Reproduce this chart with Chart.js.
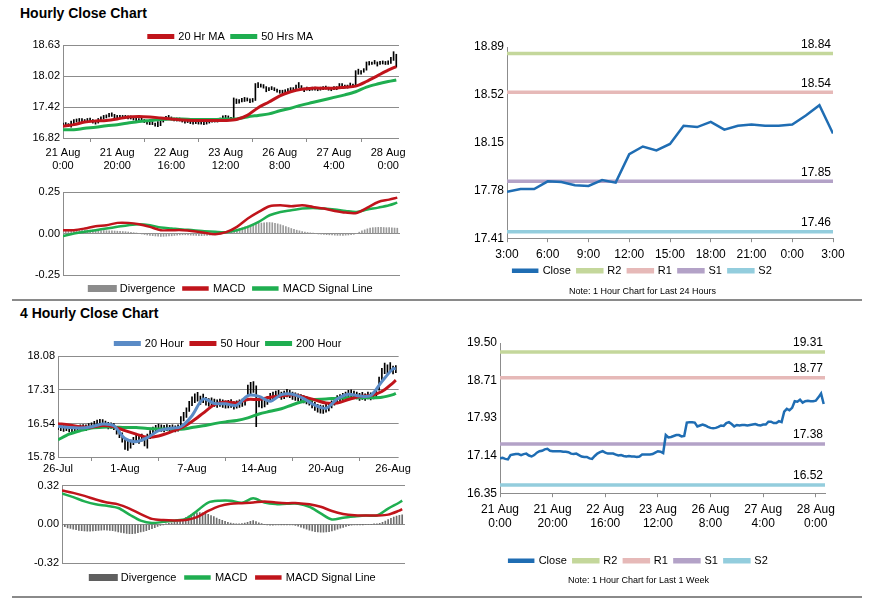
<!DOCTYPE html>
<html>
<head>
<meta charset="utf-8">
<script src="https://cdn.jsdelivr.net/npm/chart.js@4.4.1/dist/chart.umd.min.js"></script>
<style>
  body { margin: 0; background: #fff; font-family: "Liberation Sans", Arial, sans-serif; }
  #page { position: relative; width: 873px; height: 601px; overflow: hidden; }
  .title { position: absolute; left: 20px; font-weight: bold; font-size: 14px; color: #000; }
  .rule { position: absolute; left: 12px; width: 850px; height: 0; border-top: 2px solid #8a8a8a; }
  canvas { position: absolute; }
</style>
</head>
<body>
<div id="page">
  <div class="title" style="top:5px">Hourly Close Chart</div>
  <canvas id="hourPrice" width="404" height="150" style="left:8px;top:26px"></canvas>
  <canvas id="hourMacd" width="404" height="118" style="left:8px;top:180px"></canvas>
  <canvas id="dayLevels" width="412" height="272" style="left:452px;top:28px"></canvas>
  <div class="rule" style="top:299px"></div>
  <div class="title" style="top:305px">4 Hourly Close Chart</div>
  <canvas id="fourPrice" width="404" height="143" style="left:8px;top:333px"></canvas>
  <canvas id="fourMacd" width="405" height="117" style="left:8px;top:476px"></canvas>
  <canvas id="weekLevels" width="412" height="274" style="left:452px;top:322px"></canvas>
  <div class="rule" style="top:596px"></div>
</div>
<script>
// ---- hourly chart (21 Aug 0:00 .. 28 Aug 3:00) ----
const hourTicks = [['21 Aug', '0:00'], ['21 Aug', '20:00'], ['22 Aug', '16:00'], ['23 Aug', '12:00'],
                   ['26 Aug', '8:00'], ['27 Aug', '4:00'], ['28 Aug', '0:00']];
const hourY = [16.82, 17.42, 18.02, 18.63];
const hourLow = [
  17.05,17.06,17.04,17.03,17.06,17.13,17.14,17.14,17.12,17.14,
  17.15,17.11,17.09,17.11,17.15,17.19,17.21,17.23,17.24,17.21,
  17.20,17.20,17.20,17.20,17.19,17.19,17.17,17.15,17.14,17.15,
  17.12,17.09,17.08,17.08,17.05,17.04,17.06,17.13,17.17,17.19,
  17.17,17.15,17.15,17.15,17.13,17.11,17.12,17.10,17.09,17.10,
  17.09,17.09,17.08,17.09,17.11,17.13,17.13,17.13,17.14,17.16,
  17.19,17.19,17.16,17.20,17.49,17.50,17.52,17.53,17.54,17.51,
  17.52,17.55,17.80,17.81,17.79,17.72,17.74,17.76,17.74,17.71,
  17.69,17.68,17.69,17.70,17.73,17.73,17.75,17.80,17.76,17.72,
  17.75,17.74,17.75,17.75,17.74,17.75,17.76,17.77,17.75,17.74,
  17.76,17.76,17.80,17.81,17.79,17.79,17.82,17.81,17.84,18.06,
  18.06,18.10,18.14,18.24,18.25,18.26,18.22,18.25,18.26,18.25,
  18.25,18.27,18.33,18.20];
const hourHigh = [
  17.11,17.12,17.10,17.15,17.18,17.19,17.20,17.20,17.18,17.20,
  17.21,17.18,17.16,17.20,17.23,17.26,17.27,17.30,17.31,17.28,
  17.26,17.26,17.26,17.26,17.25,17.25,17.24,17.22,17.20,17.21,
  17.18,17.16,17.14,17.14,17.11,17.14,17.19,17.22,17.24,17.26,
  17.23,17.21,17.21,17.21,17.19,17.17,17.18,17.16,17.15,17.16,
  17.15,17.15,17.14,17.17,17.19,17.19,17.19,17.19,17.21,17.25,
  17.26,17.25,17.22,17.60,17.58,17.57,17.59,17.61,17.60,17.58,
  17.59,17.88,17.90,17.87,17.86,17.82,17.80,17.82,17.80,17.77,
  17.75,17.75,17.76,17.78,17.80,17.80,17.85,17.90,17.84,17.79,
  17.81,17.80,17.81,17.81,17.80,17.81,17.82,17.83,17.81,17.80,
  17.82,17.82,17.88,17.88,17.85,17.85,17.89,17.87,18.13,18.16,
  18.13,18.17,18.30,18.31,18.30,18.33,18.30,18.31,18.32,18.31,
  18.32,18.39,18.50,18.45];
// moving averages, read every 4 hours (last value = final bar)
const ma20Hr = [17.05,17.08,17.13,17.15,17.16,17.19,17.23,17.24,17.23,17.21,17.19,17.17,17.16,17.16,17.16,17.16,
                17.18,17.26,17.41,17.52,17.64,17.72,17.77,17.79,17.79,17.79,17.81,17.83,17.92,18.03,18.14,18.21];
const ma50Hr = [16.98,16.98,17.01,17.03,17.06,17.08,17.11,17.14,17.16,17.18,17.19,17.19,17.18,17.18,17.18,17.19,
                17.19,17.23,17.26,17.29,17.35,17.40,17.46,17.51,17.56,17.61,17.66,17.72,17.81,17.87,17.92,17.95];

const hourMacdY = [-0.25, 0, 0.25];
const hourMacd = [0.02,0.02,0.03,0.044,0.05,0.064,0.064,0.056,0.04,0.02,0.02,0.02,0.014,0.004,-0.004,0.008,
                  0.04,0.09,0.13,0.164,0.17,0.164,0.17,0.16,0.15,0.136,0.126,0.124,0.156,0.19,0.204,0.216];
const hourSignal = [-0.016,0.0,0.01,0.02,0.03,0.04,0.05,0.056,0.05,0.036,0.03,0.024,0.02,0.014,0.01,0.008,
                    0.02,0.04,0.07,0.11,0.13,0.14,0.15,0.154,0.15,0.144,0.136,0.13,0.144,0.156,0.17,0.186];
const hourDiverg = [
  0.015,0.015,0.016,0.017,0.018,0.018,0.019,0.02,0.02,0.02,
  0.02,0.02,0.02,0.019,0.018,0.018,0.017,0.016,0.016,0.015,
  0.014,0.013,0.012,0.011,0.009,0.007,0.005,0.003,0.0,-0.003,
  -0.006,-0.009,-0.011,-0.013,-0.015,-0.016,-0.017,-0.017,-0.016,-0.015,
  -0.014,-0.012,-0.01,-0.009,-0.008,-0.008,-0.009,-0.01,-0.011,-0.012,
  -0.013,-0.013,-0.012,-0.011,-0.01,-0.008,-0.006,-0.004,-0.002,0.0,
  0.002,0.006,0.012,0.018,0.024,0.03,0.035,0.04,0.045,0.05,
  0.054,0.058,0.061,0.063,0.065,0.066,0.066,0.065,0.062,0.058,
  0.053,0.048,0.042,0.036,0.03,0.025,0.02,0.016,0.012,0.009,
  0.006,0.004,0.002,0.0,-0.002,-0.004,-0.006,-0.007,-0.008,-0.009,
  -0.01,-0.011,-0.011,-0.011,-0.01,-0.009,-0.007,-0.005,0.0,0.008,
  0.016,0.022,0.028,0.032,0.035,0.036,0.037,0.037,0.036,0.035,
  0.035,0.034,0.033,0.032];

// ---- last 24 hours ----
const dayTicks = ['3:00', '6:00', '9:00', '12:00', '15:00', '18:00', '21:00', '0:00', '3:00'];
const dayY = [17.41, 17.78, 18.15, 18.52, 18.89];
const dayClose = [17.77,17.79,17.79,17.85,17.845,17.82,17.815,17.86,17.84,18.06,18.12,18.09,18.14,
                  18.28,18.27,18.31,18.25,18.28,18.29,18.28,18.28,18.29,18.36,18.44,18.22];
const dayLevels = {R2: 18.84, R1: 18.54, S1: 17.85, S2: 17.46};

// ---- last week, hourly close ----
const weekY = [16.35, 17.14, 17.93, 18.71, 19.50];
const weekClose = [
  17.08,17.09,17.07,17.06,17.15,17.16,17.17,17.17,17.15,17.17,
  17.18,17.14,17.12,17.15,17.20,17.23,17.24,17.27,17.28,17.24,
  17.23,17.23,17.23,17.23,17.22,17.22,17.21,17.18,17.17,17.18,
  17.15,17.12,17.11,17.11,17.08,17.07,17.13,17.18,17.21,17.23,
  17.20,17.18,17.18,17.18,17.16,17.14,17.15,17.13,17.12,17.13,
  17.12,17.12,17.11,17.12,17.16,17.16,17.16,17.16,17.17,17.20,
  17.23,17.22,17.19,17.57,17.52,17.53,17.55,17.57,17.57,17.54,
  17.55,17.83,17.84,17.84,17.83,17.75,17.77,17.79,17.77,17.74,
  17.72,17.71,17.72,17.74,17.77,17.76,17.82,17.84,17.80,17.75,
  17.78,17.77,17.78,17.78,17.77,17.78,17.79,17.80,17.78,17.77,
  17.79,17.79,17.85,17.85,17.82,17.82,17.86,17.84,18.06,18.12,
  18.09,18.14,18.28,18.27,18.31,18.25,18.28,18.29,18.28,18.28,
  18.29,18.36,18.44,18.22];
const weekLevels = {R2: 19.31, R1: 18.77, S1: 17.38, S2: 16.52};

// ---- 4 hourly chart (26 Jul .. 26 Aug) ----
const fourTicks = ['26-Jul', '1-Aug', '7-Aug', '14-Aug', '20-Aug', '26-Aug'];
const fourY = [15.78, 16.54, 17.31, 18.08];
const fourLow = [
  16.40,16.38,16.36,16.38,16.35,16.34,16.37,16.36,16.38,16.39,
  16.38,16.41,16.43,16.45,16.47,16.49,16.48,16.45,16.42,16.43,
  16.40,16.30,16.22,16.12,15.95,15.93,15.98,16.06,16.12,16.09,
  16.14,16.03,15.98,16.20,16.30,16.34,16.37,16.36,16.35,16.38,
  16.36,16.37,16.35,16.37,16.45,16.60,16.68,16.82,16.95,17.02,
  17.05,16.98,17.02,16.96,16.94,16.96,16.93,16.91,16.93,16.91,
  16.89,16.90,16.91,16.87,16.89,16.91,16.93,16.96,17.15,17.22,
  17.25,16.47,16.92,16.90,16.92,16.98,17.06,17.09,17.11,17.13,
  17.09,17.11,17.15,17.13,17.09,17.07,17.05,17.03,17.01,16.99,
  16.96,16.90,16.84,16.80,16.78,16.77,16.80,16.83,16.90,16.96,
  17.02,17.04,17.07,17.10,17.14,17.15,17.12,17.10,17.07,17.09,
  17.07,17.10,17.08,17.10,17.14,17.30,17.50,17.68,17.68,17.72,
  17.67,17.70];
const fourHigh = [
  16.53,16.52,16.50,16.51,16.49,16.48,16.50,16.49,16.51,16.52,
  16.51,16.54,16.56,16.59,16.62,16.64,16.63,16.60,16.57,16.56,
  16.54,16.47,16.40,16.33,16.20,16.14,16.17,16.23,16.28,16.26,
  16.30,16.24,16.30,16.38,16.46,16.50,16.53,16.51,16.50,16.52,
  16.50,16.51,16.49,16.51,16.70,16.80,16.90,17.05,17.15,17.22,
  17.25,17.17,17.21,17.14,17.11,17.13,17.10,17.08,17.10,17.08,
  17.06,17.07,17.09,17.04,17.06,17.08,17.10,17.14,17.42,17.48,
  17.50,17.40,17.10,17.08,17.10,17.16,17.23,17.26,17.28,17.30,
  17.26,17.28,17.32,17.30,17.26,17.24,17.22,17.20,17.18,17.16,
  17.13,17.08,17.03,16.98,16.96,16.95,16.98,17.01,17.06,17.13,
  17.18,17.20,17.23,17.26,17.30,17.31,17.28,17.26,17.23,17.25,
  17.22,17.26,17.24,17.26,17.30,17.60,17.80,17.92,17.88,17.93,
  17.85,17.86];
// moving averages, read every 4 bars (last value = final bar)
const ma20Four = [16.48,16.45,16.44,16.47,16.53,16.49,16.20,16.13,16.22,16.38,16.43,16.47,16.72,17.10,17.00,16.99,
                  16.96,17.18,17.16,17.05,17.20,17.21,17.11,16.96,16.89,17.10,17.21,17.17,17.18,17.50,17.79,17.79];
const ma50Four = [16.54,16.51,16.47,16.46,16.50,16.47,16.38,16.30,16.23,16.26,16.34,16.44,16.59,16.78,16.97,17.03,
                  17.01,17.09,17.09,17.14,17.17,17.20,17.15,17.08,17.01,17.01,17.09,17.16,17.18,17.27,17.47,17.53];
const ma200Four = [16.17,16.30,16.38,16.44,16.46,16.46,16.45,16.45,16.43,16.42,16.42,16.41,16.45,16.49,16.54,16.58,
                   16.61,16.67,16.76,16.82,16.88,16.97,17.05,17.09,17.10,17.12,17.13,17.13,17.13,17.14,17.20,17.23];

const fourMacdY = [-0.32, 0, 0.32];
const fourMacd = [0.255,0.225,0.19,0.165,0.153,0.135,0.08,0.03,0.01,0.02,0.03,0.045,0.11,0.18,0.195,0.195,
                  0.178,0.215,0.18,0.167,0.17,0.17,0.145,0.09,0.04,0.055,0.065,0.073,0.073,0.13,0.18,0.196];
const fourSignal = [0.28,0.26,0.235,0.205,0.18,0.165,0.13,0.085,0.045,0.035,0.032,0.035,0.06,0.11,0.15,0.17,
                    0.175,0.18,0.188,0.18,0.175,0.175,0.165,0.145,0.11,0.086,0.075,0.073,0.073,0.08,0.113,0.125];
const fourDiverg = [
  -0.01,-0.02,-0.03,-0.035,-0.04,-0.045,-0.05,-0.052,-0.055,-0.056,
  -0.056,-0.055,-0.053,-0.05,-0.048,-0.047,-0.048,-0.05,-0.053,-0.057,
  -0.062,-0.067,-0.072,-0.076,-0.078,-0.078,-0.075,-0.07,-0.064,-0.058,
  -0.052,-0.045,-0.037,-0.028,-0.018,-0.009,-0.002,0.004,0.008,0.012,
  0.016,0.02,0.03,0.042,0.055,0.068,0.08,0.088,0.094,0.096,
  0.095,0.09,0.082,0.073,0.063,0.052,0.042,0.033,0.024,0.016,
  0.01,0.006,0.004,0.004,0.006,0.01,0.016,0.024,0.03,0.022,
  0.012,0.005,0.0,-0.005,-0.008,-0.008,-0.006,-0.004,-0.003,-0.003,
  -0.003,-0.004,-0.006,-0.01,-0.016,-0.024,-0.032,-0.04,-0.048,-0.055,
  -0.06,-0.064,-0.066,-0.066,-0.064,-0.06,-0.055,-0.048,-0.04,-0.032,
  -0.025,-0.018,-0.012,-0.008,-0.005,-0.003,-0.002,-0.001,0.0,0.0,
  0.0,0.001,0.002,0.008,0.016,0.026,0.038,0.05,0.06,0.068,
  0.074,0.078];

const RED = '#c0141b', GREEN = '#1fae50', BLUE = '#5a8bc6', CLOSE = '#1f6db3', GRID = '#8c8c8c';
const LEVEL_COLORS = {R2: '#c4d79b', R1: '#e6b9b8', S1: '#b3a2c7', S2: '#93cddd'};

Chart.defaults.font.family = '"Liberation Sans", Arial, sans-serif';
Chart.defaults.color = '#000';
Chart.defaults.animation = false;

// helpers to turn the arrays into {x, y} points on an index axis
const byIndex = vals => vals.map((v, i) => ({x: i, y: v}));
const every = (vals, step, last) => vals.map((v, i) => ({x: Math.min(i * step, last), y: v}));
const spans = (lo, hi) => lo.map((v, i) => ({x: i, y: [v, hi[i]]}));

function yAxis(ticks, width, grid, size) {
  return {
    min: ticks[0], max: ticks[ticks.length - 1],
    afterBuildTicks: s => { s.ticks = ticks.map(v => ({value: v})); },
    afterFit: s => { s.width = width; },
    ticks: {callback: v => v.toFixed(2), font: {size: size}, padding: 3},
    grid: {display: grid, color: GRID, drawTicks: false},
    border: {display: true, color: GRID}
  };
}

function xAxis(labels, step, max, height, size, pad, bottomLine) {
  return {
    type: 'linear', min: 0, max: max, offset: false,
    afterBuildTicks: s => { s.ticks = labels.map((_, i) => ({value: i * step})); },
    afterFit: s => { s.height = height; },
    ticks: {callback: (v, i) => labels[i], autoSkip: false, maxRotation: 0, font: {size: size}, padding: pad},
    grid: {drawOnChartArea: false, color: GRID, tickLength: 4},
    border: {display: bottomLine, color: GRID}
  };
}

function hiddenX(max) {
  return {type: 'linear', min: 0, max: max, offset: false, display: false};
}

function line(label, data, color, width, order) {
  return {type: 'line', label: label, data: data, borderColor: color, backgroundColor: color,
          borderWidth: width, pointRadius: 0, tension: 0.3, order: order};
}

// default legend items, with the divergence swatch drawn as a thicker block
function legendItems(chart) {
  return Chart.defaults.plugins.legend.labels.generateLabels(chart)
    .map(item => item.text === 'Divergence' ? Object.assign(item, {lineWidth: 5}) : item);
}

function legend(position, fullSize, pad, maxHeight) {
  return {
    position: position, fullSize: fullSize, maxHeight: maxHeight,
    labels: {boxWidth: 24, boxHeight: 2, font: {size: 11}, padding: pad,
             generateLabels: legendItems,
             filter: item => item.text !== 'Price',
             sort: (a, b) => a.datasetIndex - b.datasetIndex}
  };
}

// prints each level's value above its line at the right end
const levelTags = {
  id: 'levelTags',
  afterDatasetsDraw(chart, args, opts) {
    const {ctx, chartArea, scales} = chart;
    ctx.save();
    ctx.font = '12px "Liberation Sans", Arial, sans-serif';
    ctx.fillStyle = '#000';
    ctx.textAlign = 'right';
    ctx.textBaseline = 'bottom';
    opts.values.forEach(v => ctx.fillText(v.toFixed(2), chartArea.right - 2, scales.y.getPixelForValue(v) - 3));
    ctx.restore();
  }
};

// --- Hourly close (bars + MAs) ---
new Chart(document.getElementById('hourPrice'), {
  type: 'bar',
  data: {datasets: [
    line('20 Hr MA', every(ma20Hr, 4, hourHigh.length - 1), RED, 3, 1),
    line('50 Hrs MA', every(ma50Hr, 4, hourHigh.length - 1), GREEN, 3, 2),
    {type: 'bar', label: 'Price', data: spans(hourLow, hourHigh), backgroundColor: '#000',
     barThickness: 1, order: 3}
  ]},
  options: {
    responsive: false,
    layout: {padding: {left: 0, right: 13, top: -2, bottom: 0}},
    scales: {x: xAxis(hourTicks, 20, 124, 38, 11, 4, false), y: yAxis(hourY, 55, true, 11)},
    plugins: {legend: legend('top', false, 7, 21), tooltip: {enabled: false}}
  }
});

// --- Hourly MACD ---
new Chart(document.getElementById('hourMacd'), {
  type: 'bar',
  data: {datasets: [
    {type: 'bar', label: 'Divergence', data: byIndex(hourDiverg), backgroundColor: '#9a9a9a',
     borderColor: '#8c8c8c', barThickness: 1, order: 3},
    line('MACD', every(hourMacd, 4, hourDiverg.length - 1), RED, 2.5, 1),
    line('MACD Signal Line', every(hourSignal, 4, hourDiverg.length - 1), GREEN, 2.5, 2)
  ]},
  options: {
    responsive: false,
    layout: {padding: {left: 0, right: 12, top: 12, bottom: 0}},
    scales: {x: hiddenX(124), y: yAxis(hourMacdY, 55, true, 11)},
    plugins: {legend: legend('bottom', false, 8, 23), tooltip: {enabled: false}}
  }
});

// --- close line with support / resistance levels ---
function levelChart(id, close, levels, yTicks, xTicks, step, xMax, yWidth, xHeight, pad, note, notePad) {
  const sets = [line('Close', byIndex(close), CLOSE, 2.5, 1)];
  Object.keys(levels).forEach(k => {
    sets.push(line(k, [{x: 0, y: levels[k]}, {x: xMax, y: levels[k]}], LEVEL_COLORS[k], 3.5, 2));
  });
  sets[0].tension = 0;
  new Chart(document.getElementById(id), {
    type: 'line',
    data: {datasets: sets},
    options: {
      responsive: false,
      layout: {padding: pad},
      scales: {x: xAxis(xTicks, step, xMax, xHeight, 12, 5, true), y: yAxis(yTicks, yWidth, false, 12)},
      plugins: {
        legend: legend('bottom', true, 7, 20),
        title: {display: true, position: 'bottom', text: note, font: {size: 9, weight: 'normal'},
                padding: notePad},
        levelTags: {values: Object.values(levels)},
        tooltip: {enabled: false}
      }
    },
    plugins: [levelTags]
  });
}

levelChart('dayLevels', dayClose, dayLevels, dayY, dayTicks, 3, 24, 55, 20,
           {left: 0, right: 31, top: 19, bottom: 0}, 'Note: 1 Hour Chart for Last 24 Hours',
           {top: 8, bottom: 3});

levelChart('weekLevels', weekClose, weekLevels, weekY, hourTicks, 20, 123.5, 48, 55,
           {left: 0, right: 39, top: 21, bottom: 0}, 'Note: 1 Hour Chart for Last 1 Week',
           {top: 7, bottom: 10});

// --- 4 hourly close (bars + MAs) ---
new Chart(document.getElementById('fourPrice'), {
  type: 'bar',
  data: {datasets: [
    line('20 Hour', every(ma20Four, 4, fourHigh.length - 1), BLUE, 3, 1),
    line('50 Hour', every(ma50Four, 4, fourHigh.length - 1), RED, 3, 2),
    line('200 Hour', every(ma200Four, 4, fourHigh.length - 1), GREEN, 3, 3),
    {type: 'bar', label: 'Price', data: spans(fourLow, fourHigh), backgroundColor: '#000',
     barThickness: 1, order: 4}
  ]},
  options: {
    responsive: false,
    layout: {padding: {left: 0, right: 13, top: -2, bottom: 0}},
    scales: {x: xAxis(fourTicks, 24, 122, 19, 11, 1, false), y: yAxis(fourY, 50, true, 11)},
    plugins: {legend: legend('top', false, 7, 25), tooltip: {enabled: false}}
  }
});

// --- 4 hourly MACD ---
new Chart(document.getElementById('fourMacd'), {
  type: 'bar',
  data: {datasets: [
    {type: 'bar', label: 'Divergence', data: byIndex(fourDiverg), backgroundColor: '#6e6e6e',
     borderColor: '#5f5f5f', barThickness: 1, order: 3},
    line('MACD', every(fourMacd, 4, fourDiverg.length - 1), GREEN, 2.5, 2),
    line('MACD Signal Line', every(fourSignal, 4, fourDiverg.length - 1), RED, 2.5, 1)
  ]},
  options: {
    responsive: false,
    layout: {padding: {left: 0, right: 8, top: 8, bottom: 0}},
    scales: {x: hiddenX(122), y: yAxis(fourMacdY, 54, true, 11)},
    plugins: {legend: legend('bottom', false, 9, 30), tooltip: {enabled: false}}
  }
});
</script>
</body>
</html>
